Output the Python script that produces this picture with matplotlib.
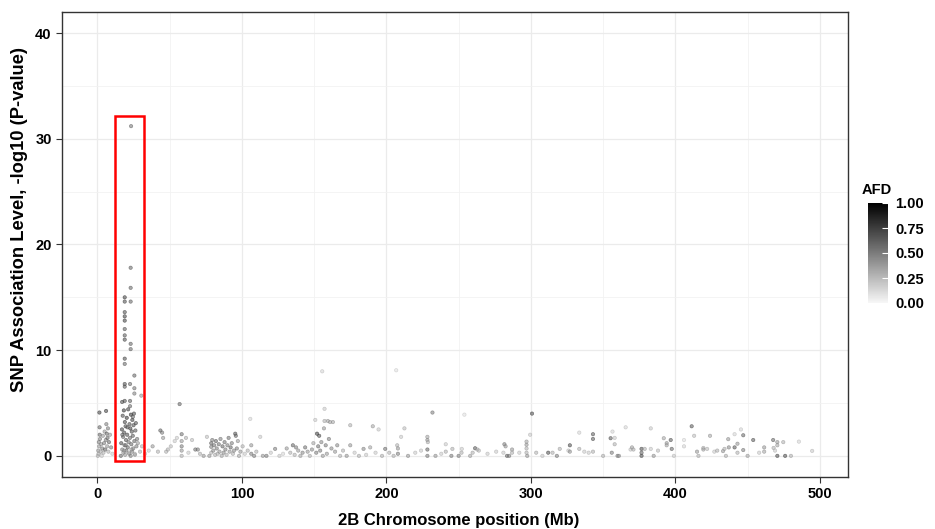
import matplotlib
matplotlib.use("Agg")
import matplotlib.pyplot as plt
import numpy as np
from matplotlib.colors import LinearSegmentedColormap
from matplotlib.patches import Rectangle
import matplotlib.cm as cm
import matplotlib.colors as mcolors

plt.rcParams['font.family'] = ['Liberation Sans', 'DejaVu Sans']

# ---------------- data ----------------
# Region A: 0-11 Mb
pos_a = [0.3, 0.6, 1.0, 1.4, 1.5, 1.6, 1.2, 0.8, 1.8, 2.2,
         2.6, 3.0, 3.4, 3.8, 4.2, 4.6, 5.0, 5.4, 5.8, 6.0,
         6.2, 6.5, 6.8, 7.0, 7.3, 7.6, 8.0, 8.7, 9.5, 10.4]
logp_a = [0.0, 0.5, 1.3, 4.1, 2.7, 2.0, 0.9, 0.2, 1.6, 0.4,
          1.1, 0.0, 0.7, 1.9, 0.3, 1.2, 2.3, 0.6, 1.5, 4.25,
          3.0, 2.1, 0.9, 1.7, 2.6, 0.4, 1.3, 2.0, 0.8, 0.2]
afd_a = [0.3, 0.4, 0.5, 0.75, 0.6, 0.6, 0.4, 0.3, 0.5, 0.3,
         0.4, 0.2, 0.5, 0.4, 0.3, 0.5, 0.4, 0.6, 0.5, 0.75,
         0.5, 0.6, 0.4, 0.6, 0.5, 0.3, 0.6, 0.4, 0.5, 0.2]

# Region B: highlighted peak, high SNPs
pos_b = [23.3, 23.0, 23.0, 18.9, 18.9, 23.0, 18.9, 18.9, 18.9, 18.9,
         18.9, 18.9, 23.0, 23.0, 18.9, 18.9, 25.6, 18.9, 18.9, 22.6,
         25.6, 25.6, 30.4, 17.1, 18.9, 22.6, 22.6]
logp_b = [31.2, 17.8, 15.9, 15.0, 14.6, 14.6, 13.6, 13.2, 12.8, 12.0,
          11.4, 11.0, 10.6, 10.1, 9.2, 8.7, 7.6, 6.8, 6.55, 6.8,
          6.4, 5.9, 5.7, 5.1, 5.2, 5.2, 4.7]
afd_b = [0.55, 0.6, 0.6, 0.75, 0.7, 0.6, 0.7, 0.75, 0.75, 0.65,
         0.65, 0.7, 0.6, 0.6, 0.7, 0.6, 0.6, 0.7, 0.65, 0.6,
         0.55, 0.5, 0.4, 0.7, 0.7, 0.65, 0.6]

# Region B2: highlighted peak, low SNPs
pos_b2 = [16.2, 16.5, 17.0, 17.2, 17.5, 17.8, 18.0, 18.3, 18.5, 18.8,
          19.0, 19.2, 19.5, 19.8, 20.0, 20.3, 20.6, 21.0, 21.3, 21.6,
          22.0, 22.2, 22.5, 22.8, 23.0, 23.2, 23.5, 23.8, 24.0, 24.2,
          24.5, 24.8, 25.0, 25.3, 25.6, 26.0, 26.3, 26.6, 27.0, 27.5,
          17.3, 18.6, 19.6, 20.8, 21.8, 23.6, 24.6, 25.8, 28.0, 29.5]
logp_b2 = [0.0, 1.2, 2.5, 0.6, 3.8, 1.8, 0.3, 4.3, 2.2, 1.0,
           3.2, 0.1, 2.8, 1.5, 0.5, 3.6, 2.0, 0.8, 4.4, 1.3,
           0.2, 3.0, 1.7, 2.6, 0.0, 3.9, 1.1, 2.3, 0.4, 3.4,
           1.9, 0.7, 2.9, 4.0, 1.4, 0.1, 2.4, 3.1, 0.9, 1.6,
           2.0, 0.5, 1.0, 2.7, 0.3, 0.6, 3.7, 0.2, 1.2, 0.4]
afd_b2 = [0.6, 0.7, 0.75, 0.5, 0.7, 0.6, 0.4, 0.8, 0.7, 0.6,
          0.75, 0.4, 0.7, 0.65, 0.5, 0.8, 0.7, 0.6, 0.75, 0.55,
          0.4, 0.7, 0.6, 0.75, 0.5, 0.8, 0.6, 0.7, 0.45, 0.75,
          0.65, 0.5, 0.7, 0.7, 0.6, 0.35, 0.65, 0.7, 0.5, 0.55,
          0.6, 0.4, 0.5, 0.65, 0.3, 0.4, 0.6, 0.3, 0.4, 0.3]

# Region C: 30-76 Mb
pos_c = [30.9, 33.0, 35.5, 38.2, 41.9, 43.6, 44.8, 45.5, 47.6, 48.8,
         50.8, 53.5, 55.0, 56.9, 58.3, 58.3, 58.3, 58.3, 58.3, 61.3,
         63.0, 65.5, 67.8, 69.5, 71.0, 73.5, 75.8]
logp_c = [0.9, 0.2, 0.5, 0.9, 0.4, 2.4, 2.2, 1.7, 0.4, 0.6,
          0.9, 1.4, 1.7, 4.9, 2.05, 1.4, 0.9, 0.5, 0.0, 1.7,
          0.3, 1.5, 0.6, 0.6, 0.2, 0.0, 1.8]
afd_c = [0.3, 0.2, 0.2, 0.4, 0.3, 0.6, 0.5, 0.4, 0.3, 0.3,
         0.25, 0.2, 0.2, 0.6, 0.55, 0.4, 0.5, 0.4, 0.3, 0.3,
         0.2, 0.25, 0.55, 0.5, 0.3, 0.4, 0.25]

# Region D: 77-132 Mb
pos_d = [77.5, 78.8, 78.8, 78.8, 79.5, 80.2, 80.8, 81.5, 82.0, 82.6,
         83.2, 84.0, 84.5, 85.2, 86.0, 86.6, 87.3, 88.0, 88.6, 89.4,
         90.0, 90.8, 91.5, 92.2, 93.0, 93.8, 94.5, 95.4, 95.8, 96.5,
         97.2, 98.0, 99.0, 100.5, 102.0, 104.0, 105.8, 106.5, 106.5, 108.5,
         110.0, 112.7, 114.5, 117.0, 120.0, 123.0, 126.0, 128.5, 131.0]
logp_d = [0.0, 1.2, 0.85, 0.3, 1.5, 0.5, 1.0, 0.1, 1.4, 0.7,
          0.2, 1.1, 0.4, 1.6, 0.0, 0.9, 0.3, 1.3, 0.6, 0.1,
          1.0, 1.7, 0.4, 0.8, 1.2, 0.2, 0.5, 2.1, 1.9, 0.7,
          1.4, 0.0, 0.4, 0.9, 0.2, 0.5, 3.5, 1.0, 0.2, 0.0,
          0.4, 1.8, 0.0, 0.0, 0.3, 0.66, 0.0, 0.2, 0.7]
afd_d = [0.4, 0.6, 0.5, 0.3, 0.5, 0.45, 0.55, 0.3, 0.6, 0.5,
         0.3, 0.55, 0.4, 0.5, 0.35, 0.6, 0.45, 0.55, 0.5, 0.3,
         0.5, 0.55, 0.4, 0.6, 0.5, 0.3, 0.45, 0.65, 0.6, 0.5,
         0.4, 0.35, 0.4, 0.3, 0.2, 0.3, 0.15, 0.4, 0.5, 0.5,
         0.3, 0.2, 0.4, 0.5, 0.2, 0.5, 0.2, 0.15, 0.4]

# Region E: 133-200 Mb
pos_e = [133.5, 135.3, 136.5, 137.5, 139.0, 140.5, 142.0, 143.8, 145.5, 147.0,
         148.5, 149.5, 150.8, 151.5, 152.0, 152.8, 153.5, 154.2, 155.0, 155.6,
         156.0, 156.8, 157.2, 157.2, 158.0, 158.8, 159.5, 160.2, 161.0, 162.0,
         163.0, 164.5, 166.0, 168.0, 170.0, 172.5, 175.0, 175.0, 178.0, 181.0,
         184.2, 186.0, 188.8, 190.6, 192.5, 194.6, 197.0, 199.2]
logp_e = [0.3, 1.0, 0.1, 0.8, 0.5, 0.0, 0.3, 0.8, 0.4, 0.0,
          0.6, 1.2, 3.4, 0.3, 2.1, 0.9, 1.9, 0.5, 1.3, 8.0,
          0.0, 2.6, 4.45, 3.3, 1.0, 0.2, 3.3, 1.6, 3.2, 0.7,
          3.2, 0.4, 1.0, 0.0, 0.5, 0.0, 2.9, 1.0, 0.3, 0.0,
          0.66, 0.1, 0.8, 2.8, 0.3, 2.5, 0.0, 0.66]
afd_e = [0.3, 0.6, 0.3, 0.5, 0.4, 0.35, 0.45, 0.55, 0.4, 0.3,
         0.45, 0.35, 0.2, 0.5, 0.75, 0.55, 0.7, 0.5, 0.45, 0.15,
         0.4, 0.4, 0.2, 0.3, 0.5, 0.4, 0.35, 0.5, 0.35, 0.45,
         0.35, 0.4, 0.45, 0.3, 0.3, 0.4, 0.3, 0.4, 0.2, 0.3,
         0.45, 0.2, 0.35, 0.35, 0.2, 0.2, 0.3, 0.55]

# Region F: 200-330 Mb
pos_f = [202.0, 205.0, 206.8, 207.5, 208.0, 208.0, 210.2, 212.5, 215.0, 220.0,
         224.0, 228.4, 228.4, 228.4, 228.4, 228.7, 231.9, 234.0, 238.0, 241.1,
         241.1, 245.0, 245.7, 250.0, 252.0, 252.2, 254.0, 258.0, 259.7, 261.4,
         263.0, 264.0, 270.0, 276.0, 281.0, 281.7, 282.5, 283.5, 285.0, 287.0,
         287.0, 292.0, 297.0, 297.0, 297.0, 297.0, 297.5, 299.5, 300.8, 303.7,
         308.0, 312.0, 315.0, 318.0, 320.0, 326.0, 327.0, 327.0]
logp_f = [0.3, 0.0, 8.1, 1.0, 0.7, 0.2, 1.8, 2.6, 0.0, 0.3,
          0.5, 1.8, 1.5, 0.6, 0.0, 1.3, 4.1, 0.0, 0.2, 1.1,
          0.4, 0.0, 0.66, 0.0, 0.3, 0.66, 3.9, 0.0, 0.3, 0.72,
          0.6, 0.5, 0.2, 0.4, 0.3, 1.1, 0.9, 0.0, 0.0, 0.6,
          0.3, 0.3, 1.35, 1.05, 0.7, 0.3, 0.0, 2.0, 4.0, 0.3,
          0.0, 0.3, 0.3, 0.0, 0.66, 0.5, 1.0, 0.4]
afd_f = [0.3, 0.3, 0.1, 0.3, 0.4, 0.5, 0.2, 0.25, 0.4, 0.2,
         0.2, 0.35, 0.4, 0.6, 0.5, 0.3, 0.5, 0.4, 0.2, 0.2,
         0.3, 0.5, 0.3, 0.5, 0.3, 0.2, 0.1, 0.35, 0.3, 0.65,
         0.3, 0.25, 0.2, 0.2, 0.2, 0.5, 0.4, 0.6, 0.5, 0.4,
         0.3, 0.2, 0.35, 0.4, 0.3, 0.3, 0.4, 0.2, 0.7, 0.3,
         0.2, 0.7, 0.3, 0.5, 0.3, 0.2, 0.7, 0.4]

# Region G: 330-500 Mb
pos_g = [333.5, 333.5, 337.0, 340.0, 343.0, 343.0, 343.0, 350.0, 355.2, 356.0,
         356.5, 358.0, 358.0, 360.0, 361.0, 365.6, 369.0, 370.0, 371.0, 376.6,
         376.6, 376.6, 378.8, 383.0, 383.0, 385.0, 388.0, 392.0, 394.0, 394.0,
         396.8, 397.5, 399.0, 406.0, 406.0, 411.3, 413.0, 415.0, 416.0, 419.4,
         419.4, 422.0, 424.0, 427.0, 429.0, 433.0, 434.0, 435.0, 436.6, 437.0,
         441.0, 441.0, 443.0, 443.0, 445.4, 447.0, 447.0, 450.0, 453.9, 458.0,
         461.5, 461.5, 467.7, 468.0, 469.0, 470.6, 470.6, 470.6, 474.7, 476.0,
         480.0, 485.5, 494.7]
logp_g = [0.66, 2.2, 0.4, 0.3, 2.05, 1.6, 0.4, 0.0, 1.67, 0.3,
          2.3, 1.7, 1.1, 0.0, 0.0, 2.7, 0.6, 0.8, 0.6, 0.66,
          0.3, 0.0, 0.66, 2.6, 0.66, 0.0, 0.5, 1.67, 1.2, 1.0,
          1.5, 0.66, 0.0, 1.5, 0.9, 2.8, 1.9, 0.4, 0.0, 0.75,
          0.6, 0.66, 1.9, 0.4, 0.5, 0.45, 0.66, 0.0, 1.58, 0.8,
          2.05, 0.8, 1.15, 0.3, 2.5, 1.95, 0.55, 0.0, 1.5, 0.3,
          0.8, 0.4, 1.5, 0.75, 0.5, 1.3, 1.0, 0.0, 1.3, 0.0,
          0.0, 1.35, 0.47]
afd_g = [0.3, 0.15, 0.2, 0.2, 0.65, 0.65, 0.3, 0.3, 0.65, 0.5,
         0.15, 0.2, 0.3, 0.5, 0.4, 0.15, 0.2, 0.35, 0.3, 0.7,
         0.6, 0.7, 0.3, 0.2, 0.2, 0.4, 0.25, 0.35, 0.4, 0.35,
         0.65, 0.6, 0.2, 0.1, 0.15, 0.65, 0.25, 0.4, 0.3, 0.3,
         0.35, 0.25, 0.35, 0.2, 0.3, 0.4, 0.3, 0.3, 0.4, 0.45,
         0.15, 0.65, 0.4, 0.3, 0.15, 0.6, 0.5, 0.35, 0.65, 0.2,
         0.4, 0.35, 0.6, 0.3, 0.2, 0.4, 0.35, 0.7, 0.3, 0.7,
         0.3, 0.15, 0.2]

x_ticks = [0, 100, 200, 300, 400, 500]
y_ticks = [0, 10, 20, 30, 40]
cbar_ticks = [0.0, 0.25, 0.5, 0.75, 1.0]
highlight_x = (12, 32)
highlight_y = (-0.5, 32.2)

# ---------------- plot ----------------
pos = np.concatenate([pos_a, pos_b, pos_b2, pos_c, pos_d, pos_e, pos_f, pos_g])
logp = np.concatenate([logp_a, logp_b, logp_b2, logp_c, logp_d, logp_e, logp_f, logp_g])
afd = np.concatenate([afd_a, afd_b, afd_b2, afd_c, afd_d, afd_e, afd_f, afd_g])

cmap = LinearSegmentedColormap.from_list("afd", ["#F7F7F7", "#000000"])
norm = mcolors.Normalize(0, 1)

fig = plt.figure(figsize=(9.35, 5.29), dpi=100)
ax = fig.add_axes([62 / 935, 1 - 477 / 529, (848 - 62) / 935, (477 - 12) / 529])

ax.set_xlim(-24.5, 519.5)
ax.set_ylim(-2.0, 42.0)
ax.set_xticks(x_ticks)
ax.set_yticks(y_ticks)
ax.set_xticks([50, 150, 250, 350, 450], minor=True)
ax.set_yticks([5, 15, 25, 35], minor=True)
ax.grid(True, which='major', color='#EBEBEB', lw=0.9)
ax.grid(True, which='minor', color='#F2F2F2', lw=0.6)
ax.set_axisbelow(True)

face = cmap(norm(afd))
edge = cmap(norm(np.clip(afd + 0.15, 0, 1)))
ax.scatter(pos, logp, s=6, c=face, edgecolors=edge, linewidths=0.45, alpha=0.55, zorder=3)

rect = Rectangle((highlight_x[0], highlight_y[0]), highlight_x[1] - highlight_x[0],
                 highlight_y[1] - highlight_y[0], fill=False, edgecolor='#FF0000', lw=1.8, zorder=4)
ax.add_patch(rect)

for s in ax.spines.values():
    s.set_color('#333333')
    s.set_linewidth(1.0)
ax.tick_params(which='major', direction='out', length=4, width=0.8, color='#333333',
               labelsize=10.5, labelcolor='black')
ax.tick_params(which='minor', length=0)
for lbl in ax.get_xticklabels() + ax.get_yticklabels():
    lbl.set_fontweight('bold')

ax.set_xlabel("2B Chromosome position (Mb)", fontsize=12, fontweight='bold')
ax.xaxis.set_label_coords((459 - 62) / 786, (477 - 520) / 465)
ax.xaxis.label.set_va('center')
ax.set_ylabel("SNP Association Level, -log10 (P-value)", fontsize=13.2, fontweight='bold')
ax.yaxis.set_label_coords((20 - 62) / 786, (477 - 220) / 465)
ax.yaxis.label.set_va('center')

# colorbar
cax = fig.add_axes([868 / 935, 1 - 303 / 529, 20 / 935, 100 / 529])
sm = cm.ScalarMappable(norm=norm, cmap=cmap)
cb = fig.colorbar(sm, cax=cax, ticks=cbar_ticks)
cb.outline.set_visible(False)
cb.ax.set_yticklabels(["0.00", "0.25", "0.50", "0.75", "1.00"])
cb.ax.tick_params(direction='in', length=4, width=0.8, color='white', labelsize=10.5, pad=5)
for lbl in cb.ax.get_yticklabels():
    lbl.set_fontweight('bold')
fig.text(862 / 935, 1 - 190 / 529, "AFD", fontsize=10.5, fontweight='bold', ha='left', va='center')

fig.savefig("out.png", dpi=100)
